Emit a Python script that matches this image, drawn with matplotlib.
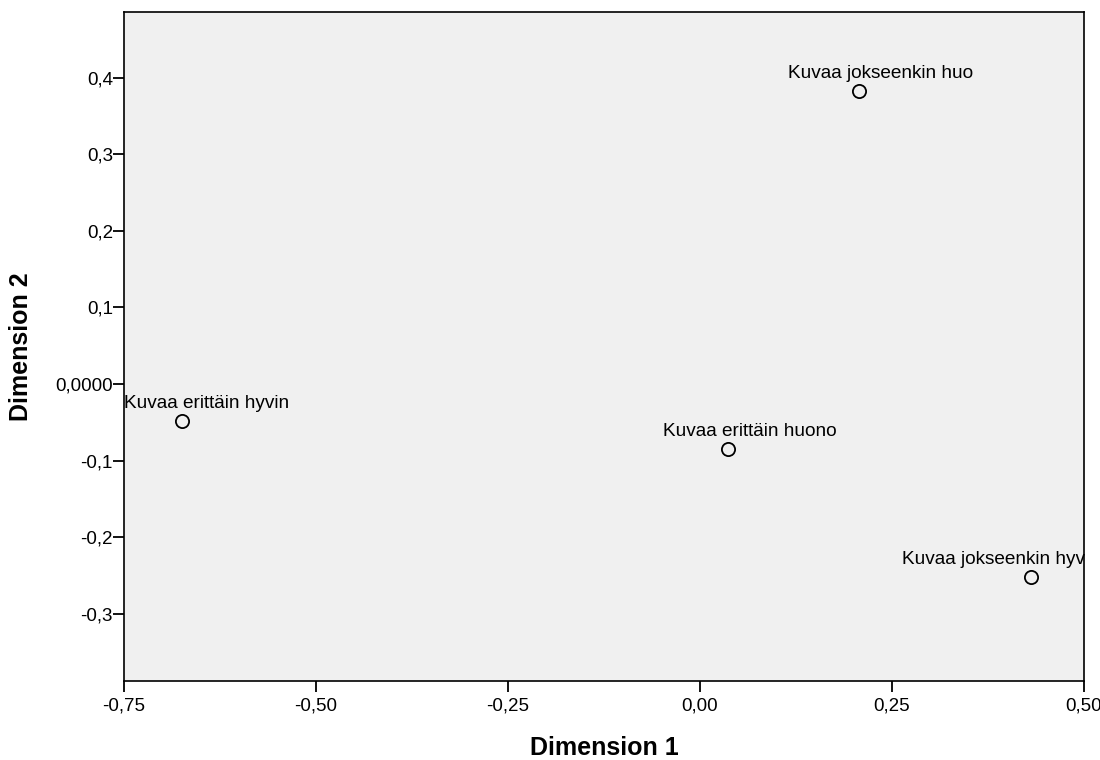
import matplotlib.pyplot as plt

plt.rcParams['font.family'] = ['Liberation Sans', 'DejaVu Sans']

# Category points (Dimension 1, Dimension 2)
labels = ['Kuvaa erittäin hyvin', 'Kuvaa erittäin huono',
          'Kuvaa jokseenkin huo', 'Kuvaa jokseenkin hyv']
dim1 = [-0.674, 0.036, 0.207, 0.431]
dim2 = [-0.048, -0.085, 0.383, -0.252]

xticks = [-0.75, -0.50, -0.25, 0.00, 0.25, 0.50]
xtick_labels = ['-0,75', '-0,50', '-0,25', '0,00', '0,25', '0,50']
yticks = [-0.3, -0.2, -0.1, 0.0, 0.1, 0.2, 0.3, 0.4]
ytick_labels = ['-0,3', '-0,2', '-0,1', '0,0000', '0,1', '0,2', '0,3', '0,4']

fig = plt.figure(figsize=(11, 7.6), dpi=100)
ax = fig.add_axes([124 / 1100, 1 - 681 / 760, 960 / 1100, 669 / 760])
ax.set_facecolor('#F0F0F0')

ax.plot(dim1, dim2, linestyle='none', marker='o', markersize=9.5,
        markerfacecolor='none', markeredgecolor='black', markeredgewidth=1.3,
        clip_on=False)

# point labels (edge labels pushed inside the plot area like SPSS does)
for i, (lab, x, y) in enumerate(zip(labels, dim1, dim2)):
    if i == 0:
        ann = ax.annotate(lab, xy=(0, y), xycoords=('axes fraction', 'data'),
                          xytext=(0, 13), textcoords='offset pixels',
                          ha='left', va='baseline', fontsize=13.7)
    elif i == len(labels) - 1:
        ann = ax.annotate(lab, xy=(1, y), xycoords=('axes fraction', 'data'),
                          xytext=(1, 13), textcoords='offset pixels',
                          ha='right', va='baseline', fontsize=13.7)
    else:
        ann = ax.annotate(lab, xy=(x, y), xytext=(22, 13),
                          textcoords='offset pixels',
                          ha='center', va='baseline', fontsize=13.7)
    ann.set_clip_on(True)

ax.set_xlim(-0.75, 0.50)
ax.set_ylim(-0.388, 0.486)
ax.set_xticks(xticks)
ax.set_xticklabels(xtick_labels)
ax.set_yticks(yticks)
ax.set_yticklabels(ytick_labels)

for s in ax.spines.values():
    s.set_linewidth(1.2)
ax.tick_params(axis='both', direction='out', length=8, width=1.3,
               labelsize=13.5, colors='black')
ax.tick_params(axis='y', pad=0)
ax.tick_params(axis='x', pad=4)

ax.set_xlabel('Dimension 1', fontsize=18, fontweight='bold')
ax.set_ylabel('Dimension 2', fontsize=18, fontweight='bold')
ax.xaxis.set_label_coords(0.5, -0.082)
ax.yaxis.set_label_coords(-0.095, 0.5)

fig.savefig('out.png', dpi=100)
